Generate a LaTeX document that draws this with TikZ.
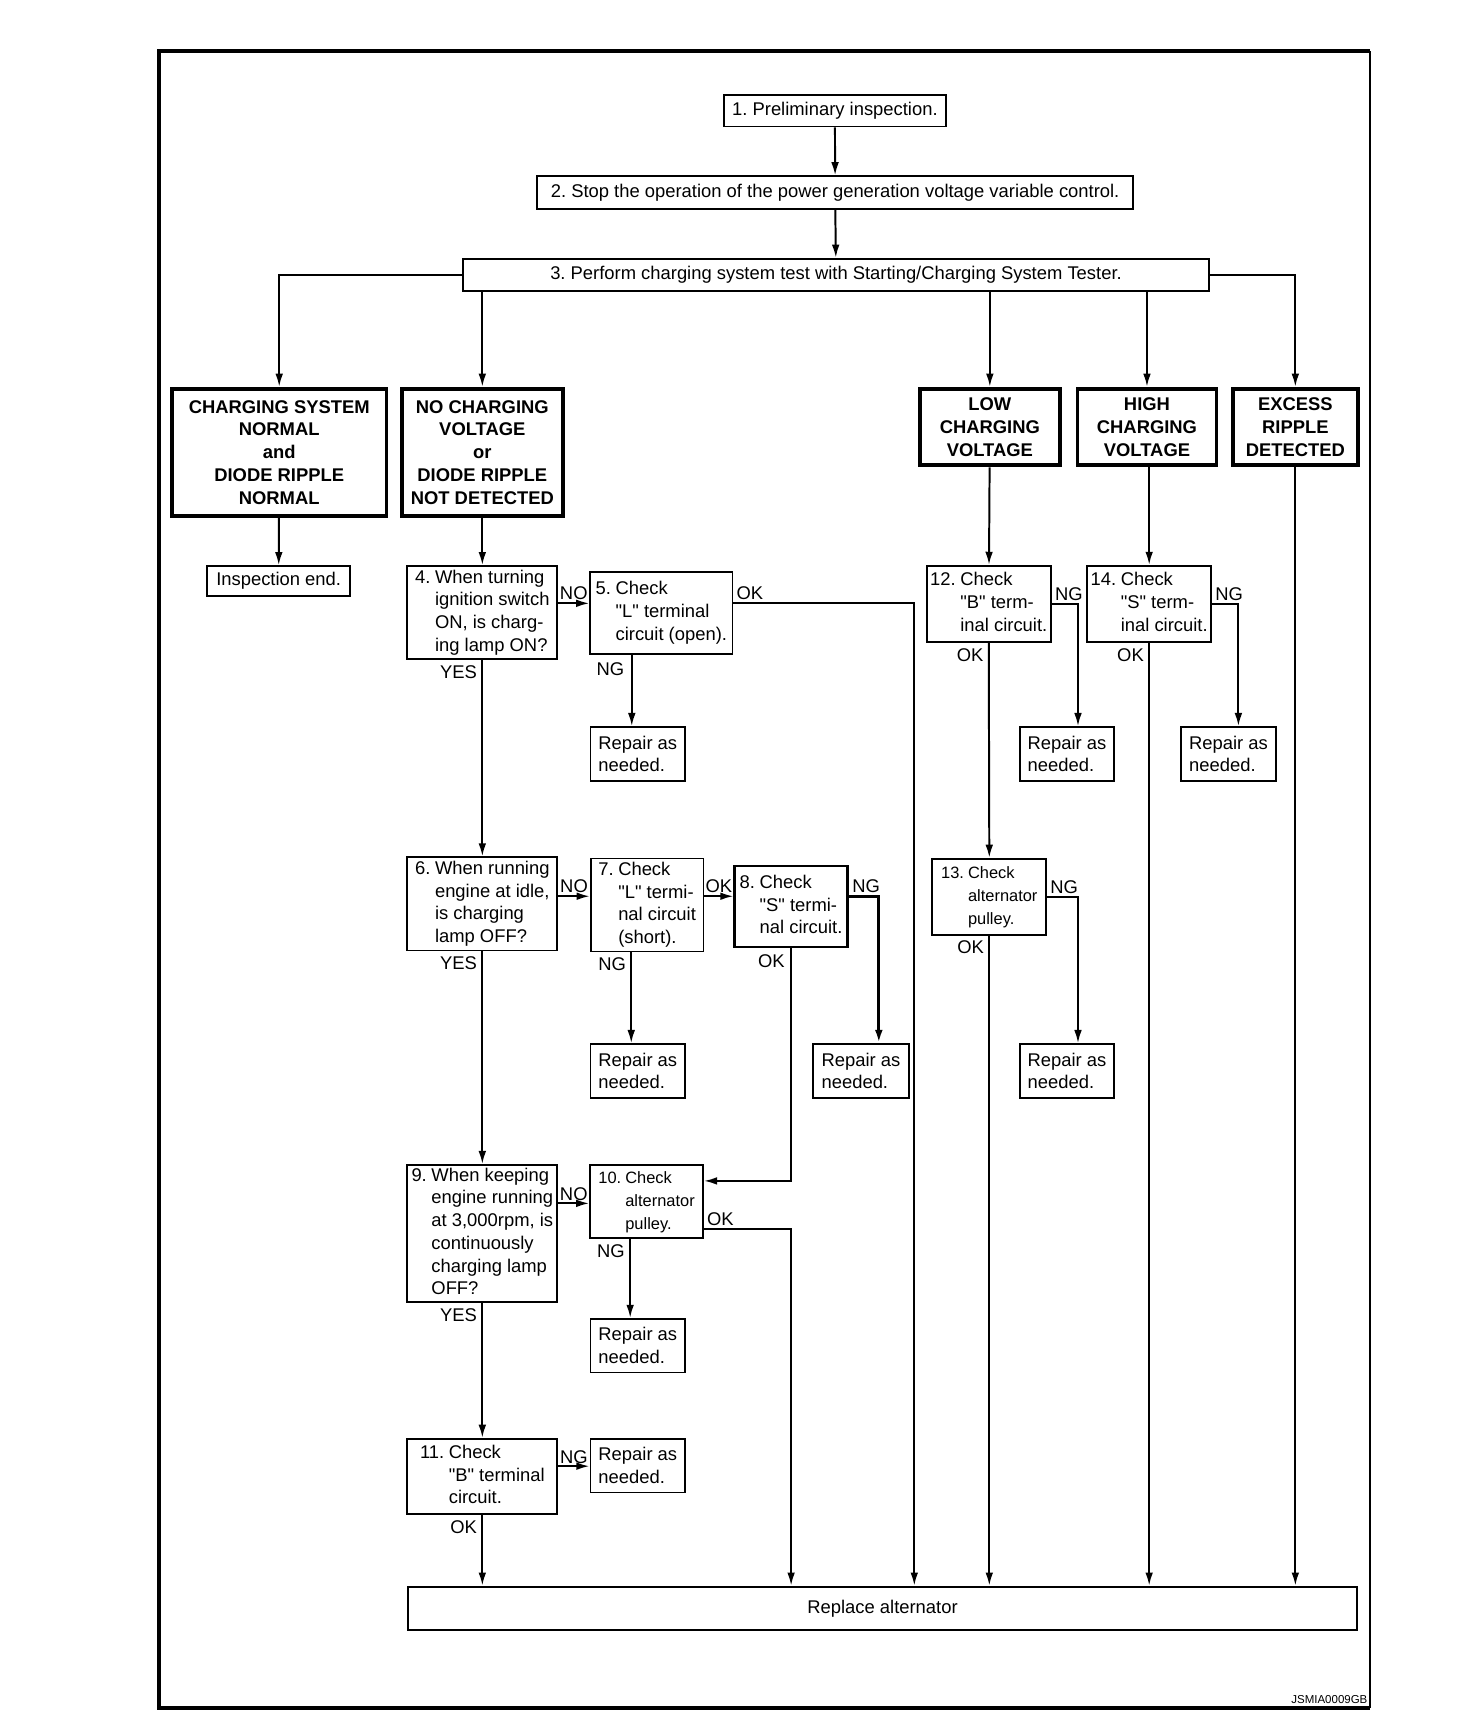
\documentclass[tikz,border=0pt]{standalone}
\usepackage{fontspec}
\setmainfont{Liberation Sans}
\usetikzlibrary{arrows.meta}
\frenchspacing

% number on the first line, the rest hanging under the text
\newcommand{\numtext}[2]{\begin{tabular}{@{}l@{\hspace{0.25em}}l@{}}#1 & \begin{tabular}[t]{@{}l@{}}#2\end{tabular}\end{tabular}}
\newcommand{\qt}[1]{\textquotedbl#1\textquotedbl}

\begin{document}
\begin{tikzpicture}[x=1pt, y=-1pt,
    txt/.style={font=\fontsize{16.8}{20.8}\selectfont},
    small/.style={font=\fontsize{15}{20.8}\selectfont},
    stepbox/.style={draw, line width=1.7pt, inner sep=0pt, txt, align=center},
    repbox/.style={stepbox, align=left, minimum width=86.5pt, minimum height=49pt},
    resbox/.style={draw, line width=3.5pt, inner sep=0pt, align=center, font=\fontsize{16.8}{20.8}\selectfont\bfseries},
    lnk/.style={line width=1.8pt},
    arr/.style={lnk, -{Latex[length=12pt,width=7pt]}},
    lbl/.style={txt, inner sep=2pt},
    lblb/.style={txt, inner sep=4pt}]
    \useasboundingbox (0,0) rectangle (1330,1569);
    \draw[line width=3.6pt] (1251,47) -- (145,47) -- (145,1560) -- (1251,1560);
    \draw[line width=1.8pt] (1251,47) -- (1251,1560);

    % first steps
    \node[stepbox, minimum width=203pt, minimum height=29pt] (s1) at (762.5,101) {1. Preliminary inspection.};
    \node[stepbox, minimum width=544pt, minimum height=30pt] (s2) at (762.7,176) {2. Stop the operation of the power generation voltage variable control.};
    \node[stepbox, minimum width=681pt, minimum height=29.5pt] (s3) at (763.5,251) {3. Perform charging system test with Starting/Charging System Tester.};

    % test results
    \node[resbox, minimum width=196pt, minimum height=116pt] (rnorm) at (255,413) {CHARGING SYSTEM\\NORMAL\\and\\DIODE RIPPLE\\NORMAL};
    \node[resbox, minimum width=147pt, minimum height=116pt] (rnone) at (440.5,413) {NO CHARGING\\VOLTAGE\\or\\DIODE RIPPLE\\NOT DETECTED};
    \node[resbox, minimum width=128pt, minimum height=70pt] (rlow) at (904,390) {LOW\\CHARGING\\VOLTAGE};
    \node[resbox, minimum width=127pt, minimum height=70pt] (rhigh) at (1047.5,390) {HIGH\\CHARGING\\VOLTAGE};
    \node[resbox, minimum width=114pt, minimum height=70pt] (rexc) at (1183,390) {EXCESS\\RIPPLE\\DETECTED};

    \node[stepbox, minimum width=131pt, minimum height=27pt] (iend) at (254.5,530.5) {Inspection end.};

    % left column
    \node[stepbox, minimum width=137pt, minimum height=85pt] (s4) at (440.5,559.5) {\numtext{4.}{When turning\\ignition switch\\ON, is charg-\\ing lamp ON?}};
    \node[stepbox, minimum width=130pt, minimum height=75pt] (s5) at (604,560) {\numtext{5.}{Check\\\qt{L} terminal\\circuit (open).}};
    \node[repbox] (rep5) at (582.5,688.5) {Repair as\\needed.};

    \node[stepbox, minimum width=137pt, minimum height=85pt] (s6) at (440.5,825.5) {\numtext{6.}{When running\\engine at idle,\\is charging\\lamp OFF?}};
    \node[stepbox, minimum width=103pt, minimum height=85pt] (s7) at (591,826.5) {\numtext{7.}{Check\\\qt{L} termi-\\nal circuit\\(short).}};
    \node[stepbox, minimum width=103pt, minimum height=74pt, line width=2.3pt] (s8) at (722.5,828) {\numtext{8.}{Check\\\qt{S} termi-\\nal circuit.}};
    \node[repbox] (rep7) at (582.5,978) {Repair as\\needed.};
    \node[repbox, minimum width=87pt] (rep8) at (786.3,978) {Repair as\\needed.};

    \node[stepbox, minimum width=137pt, minimum height=125pt] (s9) at (440.5,1126.5) {\numtext{9.}{When keeping\\engine running\\at 3,000rpm, is\\continuously\\charging lamp\\OFF?}};
    \node[stepbox, small, minimum width=103pt, minimum height=67pt] (s10) at (590.5,1097.5) {\numtext{10.}{Check\\alternator\\pulley.}};
    \node[repbox] (rep10) at (582.5,1229) {Repair as\\needed.};

    \node[stepbox, minimum width=137pt, minimum height=69pt] (s11) at (440.5,1348.5) {\numtext{11.}{Check\\\qt{B} terminal\\circuit.}};
    \node[repbox] (rep11) at (582.5,1338.5) {Repair as\\needed.};

    % right columns
    \node[stepbox, minimum width=113.5pt, minimum height=69.5pt] (s12) at (903,551.5) {\numtext{12.}{Check\\\qt{B} term-\\inal circuit.}};
    \node[repbox] (rep12) at (974.5,688.5) {Repair as\\needed.};
    \node[stepbox, small, minimum width=104pt, minimum height=69.5pt] (s13) at (903.5,819) {\numtext{13.}{Check\\alternator\\pulley.}};
    \node[repbox] (rep13) at (974.5,978) {Repair as\\needed.};
    \node[stepbox, minimum width=113.5pt, minimum height=69.5pt] (s14) at (1049.5,551.5) {\numtext{14.}{Check\\\qt{S} term-\\inal circuit.}};
    \node[repbox, minimum width=87pt] (rep14) at (1122,688.5) {Repair as\\needed.};

    \node[stepbox, minimum width=867pt, minimum height=40pt] (repl) at (806,1469) {Replace alternator};
    \node[font=\fontsize{10.5}{12}\selectfont, anchor=south east, inner sep=1pt] (code) at (1250,1557) {JSMIA0009GB};

    \coordinate (okcol) at (835,0);

    % connectors
    \draw[arr] (s1) -- (s2);
    \draw[arr] (s2) -- (s3);
    \draw[arr] (s3.west) -| (rnorm.north);
    \draw[arr] (s3.south -| rnone.north) -- (rnone.north);
    \draw[arr] (s3.south -| rlow.north) -- (rlow.north);
    \draw[arr] (s3.south -| rhigh.north) -- (rhigh.north);
    \draw[arr] (s3.east) -| (rexc.north);
    \draw[arr] (rnorm) -- (iend);
    \draw[arr] (rnone) -- (s4);

    \draw[arr] ([yshift=8.5pt]s4.east) -- ([yshift=8.5pt]s4.east -| s5.west) node[lbl, midway, above] {NO};
    \draw[arr] ([yshift=9pt]s5.east) node[lbl, above right] {OK} -| (okcol |- repl.north);
    \draw[arr] ([xshift=-27pt]s5.south) node[lblb, below left, inner sep=6pt] {NG} -- ([xshift=-27pt]s5.south |- rep5.north);
    \draw[arr] (s4.south) node[lblb, below left] {YES} -- (s6.north);

    \draw[arr] ([yshift=7pt]s6.east) -- ([yshift=7pt]s6.east -| s7.west) node[lbl, midway, above] {NO};
    \draw[arr] ([yshift=8pt]s7.east) -- ([yshift=8pt]s7.east -| s8.west) node[lbl, midway, above] {OK};
    \draw[arr, line width=2.6pt] ([yshift=9.5pt]s8.east) node[lbl, above right] {NG} -| ([xshift=16.3pt]rep8.north);
    \draw[arr] ([xshift=-14.5pt]s7.south) node[lblb, below left] {NG} -- ([xshift=-14.5pt]s7.south |- rep7.north);
    \draw[arr] (s8.south) node[lblb, below left, inner sep=5pt] {OK} |- ([yshift=19pt]s10.east);
    \draw[arr] (s6.south) node[lblb, below left] {YES} -- (s9.north);

    \draw[arr] ([yshift=27.5pt]s9.east) -- ([yshift=27.5pt]s9.east -| s10.west) node[lbl, midway, above] {NO};
    \draw[arr] ([yshift=-24.5pt]s10.east) node[lbl, above right] {OK} -| (s8.south |- repl.north);
    \draw[arr] ([xshift=-15pt]s10.south) node[lblb, below left] {NG} -- ([xshift=-15pt]s10.south |- rep10.north);
    \draw[arr] (s9.south) node[lblb, below left] {YES} -- (s11.north);

    \draw[arr] ([yshift=9.5pt]s11.east) -- ([yshift=9.5pt]s11.east -| rep11.west) node[lbl, midway, above, inner sep=1pt] {NG};
    \draw[arr] (s11.south) node[lblb, below left] {OK} -- (s11.south |- repl.north);

    \draw[arr] (rlow) -- (s12);
    \draw[arr] (s12.east) node[lbl, above right] {NG} -| ([xshift=10pt]rep12.north);
    \draw[arr] (s12.south) node[lblb, below left] {OK} -- (s13.north);
    \draw[arr] (s13.east) node[lbl, above right] {NG} -| ([xshift=10pt]rep13.north);
    \draw[arr] (s13.south) node[lblb, below left] {OK} -- (s13.south |- repl.north);

    \draw[arr] (rhigh.south -| s14.north) -- (s14.north);
    \draw[arr] (s14.east) node[lbl, above right] {NG} -| ([xshift=9pt]rep14.north);
    \draw[arr] (s14.south) node[lblb, below left] {OK} -- (s14.south |- repl.north);
    \draw[arr] (rexc.south) -- (rexc.south |- repl.north);
\end{tikzpicture}
\end{document}
